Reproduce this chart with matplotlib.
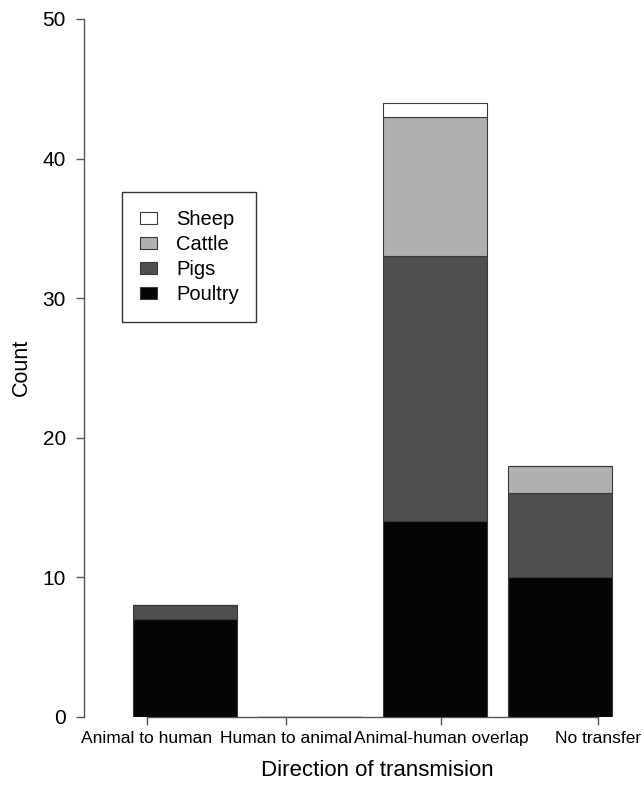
import matplotlib.pyplot as plt
from matplotlib import font_manager
from matplotlib.patches import Patch
import numpy as np

plt.rcParams['font.family'] = ['Liberation Sans', 'DejaVu Sans']

categories = ["Animal to human", "Human to animal", "Animal-human overlap", "No transfer"]
species = ["Poultry", "Pigs", "Cattle", "Sheep"]
poultry = [7, 0, 14, 10]
pigs = [1, 0, 19, 6]
cattle = [0, 0, 10, 2]
sheep = [0, 0, 1, 0]
colours = ["#050505", "#4f4f4f", "#b0b0b0", "#ffffff"]

# condensed face for the axis annotations if it's around
installed = {f.name for f in font_manager.fontManager.ttflist}
if "Liberation Sans Narrow" in installed:
    narrow, xtick_size, ylab_size = "Liberation Sans Narrow", 15, 18
else:
    narrow, xtick_size, ylab_size = "Liberation Sans", 12.5, 15.5

# barplot-style layout: width 1, space 0.2
left_edges = 0.2 + 1.2 * np.arange(len(categories))
tick_pos = [0.334, 1.668, 3.156, 4.662]

fig = plt.figure(figsize=(6.44, 7.89), dpi=100)
ax = fig.add_axes([84 / 644, 1 - 716.7 / 789, (620 - 84) / 644, (716.7 - 19) / 789])

bottom = np.zeros(len(categories))
for name, vals, col in zip(species, [poultry, pigs, cattle, sheep], colours):
    vals = np.array(vals, dtype=float)
    ax.bar(left_edges, vals, width=1.0, bottom=bottom, align="edge",
           color=col, edgecolor="#3a3a3a", linewidth=0.8, zorder=3)
    bottom += vals

ax.set_xlim((84 - 112.2) / 104.2, (620 - 112.2) / 104.2)
ax.set_ylim(0, 50)

for s in ["top", "right"]:
    ax.spines[s].set_visible(False)
ax.spines["left"].set_bounds(0, 50)
ax.spines["bottom"].set_bounds(tick_pos[0], tick_pos[-1])
for s in ["left", "bottom"]:
    ax.spines[s].set_color("#555555")
    ax.spines[s].set_linewidth(1.0)

ax.set_yticks([0, 10, 20, 30, 40, 50])
ax.set_xticks(tick_pos)
ax.set_xticklabels(categories, family=[narrow, "DejaVu Sans"], fontsize=xtick_size)
ax.tick_params(axis="y", labelsize=15, length=6, width=1.0, color="#555555", pad=7)
ax.tick_params(axis="x", length=6, width=1.0, color="#555555", pad=4)

ax.set_ylabel("Count", fontsize=ylab_size, family=[narrow, "DejaVu Sans"], labelpad=8)
ax.set_xlabel("Direction of transmision", fontsize=16)
ax.xaxis.set_label_coords((377 - 84) / 536, -0.062)

handles = [Patch(facecolor=c, edgecolor="#3a3a3a", linewidth=0.8) for c in colours[::-1]]
leg = fig.legend(handles, species[::-1], loc="upper left",
                 bbox_to_anchor=(122 / 644, 1 - 192 / 789), borderaxespad=0,
                 fontsize=14.5, fancybox=False, framealpha=1, edgecolor="#333333",
                 handlelength=0.85, handleheight=0.55, handletextpad=0.95,
                 labelspacing=0.3, borderpad=0.88)
leg.get_frame().set_linewidth(1.0)

fig.savefig("out.png", dpi=100)
